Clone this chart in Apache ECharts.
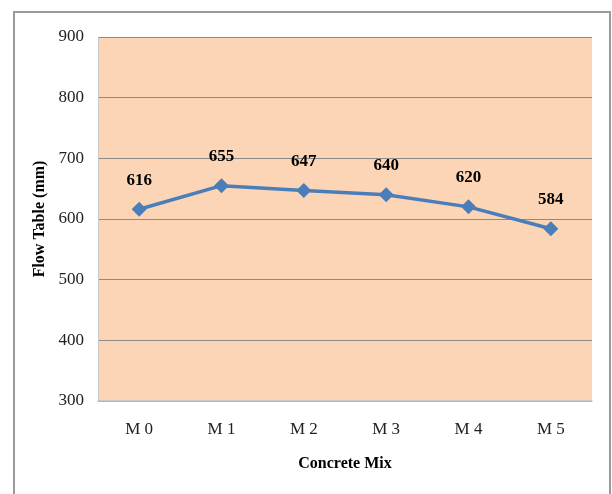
<!DOCTYPE html>
<html>
<head>
<meta charset="utf-8">
<script src="https://cdn.jsdelivr.net/npm/echarts@6/dist/echarts.min.js"></script>
<style>
  html, body { margin: 0; padding: 0; background: #ffffff; }
  #chart { width: 612px; height: 494px; }
</style>
</head>
<body>
<div id="chart"></div>
<script>
// Flow table results for each concrete mix
const mixes = ['M 0', 'M 1', 'M 2', 'M 3', 'M 4', 'M 5'];
const flowTable = [616, 655, 647, 640, 620, 584];
const yMin = 300;
const yMax = 900;
const yStep = 100;

const serif = '"Liberation Serif", "Times New Roman", serif';
const chart = echarts.init(document.getElementById('chart'), null, { renderer: 'canvas' });

chart.setOption({
  backgroundColor: '#ffffff',
  animation: false,
  graphic: [{
    type: 'rect',
    shape: { x: 14, y: 12, width: 596, height: 500 },
    style: { fill: 'none', stroke: '#9a9a9a', lineWidth: 2 },
    silent: true,
    z: -1
  }],
  grid: {
    left: 98, right: 20, top: 37, bottom: 93,
    show: true,
    backgroundColor: '#fbd5b5',
    borderWidth: 0
  },
  xAxis: {
    type: 'category',
    data: mixes,
    boundaryGap: true,
    name: 'Concrete Mix',
    nameLocation: 'middle',
    nameGap: 55,
    nameTextStyle: { fontFamily: serif, fontWeight: 'bold', fontSize: 16, color: '#000' },
    axisLine: { show: true, lineStyle: { color: '#b9c4d4', width: 1.5 } },
    axisTick: { show: false },
    axisLabel: { fontFamily: serif, fontSize: 17, color: '#222', margin: 20 }
  },
  yAxis: {
    type: 'value',
    min: yMin, max: yMax, interval: yStep,
    name: 'Flow Table (mm)',
    nameLocation: 'middle',
    nameGap: 46,
    nameTextStyle: { fontFamily: serif, fontWeight: 'bold', fontSize: 16, color: '#000' },
    axisLine: { show: true, lineStyle: { color: '#c8c8c8', width: 1 } },
    axisTick: { show: false },
    axisLabel: { fontFamily: serif, fontSize: 17, color: '#222', margin: 14 },
    splitLine: { show: true, lineStyle: { color: '#8e8a88', width: 1.2 } }
  },
  series: [{
    type: 'line',
    data: flowTable,
    symbol: 'diamond',
    symbolSize: 15,
    lineStyle: { color: '#4a7ebb', width: 3.5 },
    itemStyle: { color: '#4a7ebb' },
    label: {
      show: true,
      position: 'top',
      distance: 13,
      fontFamily: serif,
      fontWeight: 'bold',
      fontSize: 17,
      color: '#000'
    }
  }]
});
</script>
</body>
</html>
